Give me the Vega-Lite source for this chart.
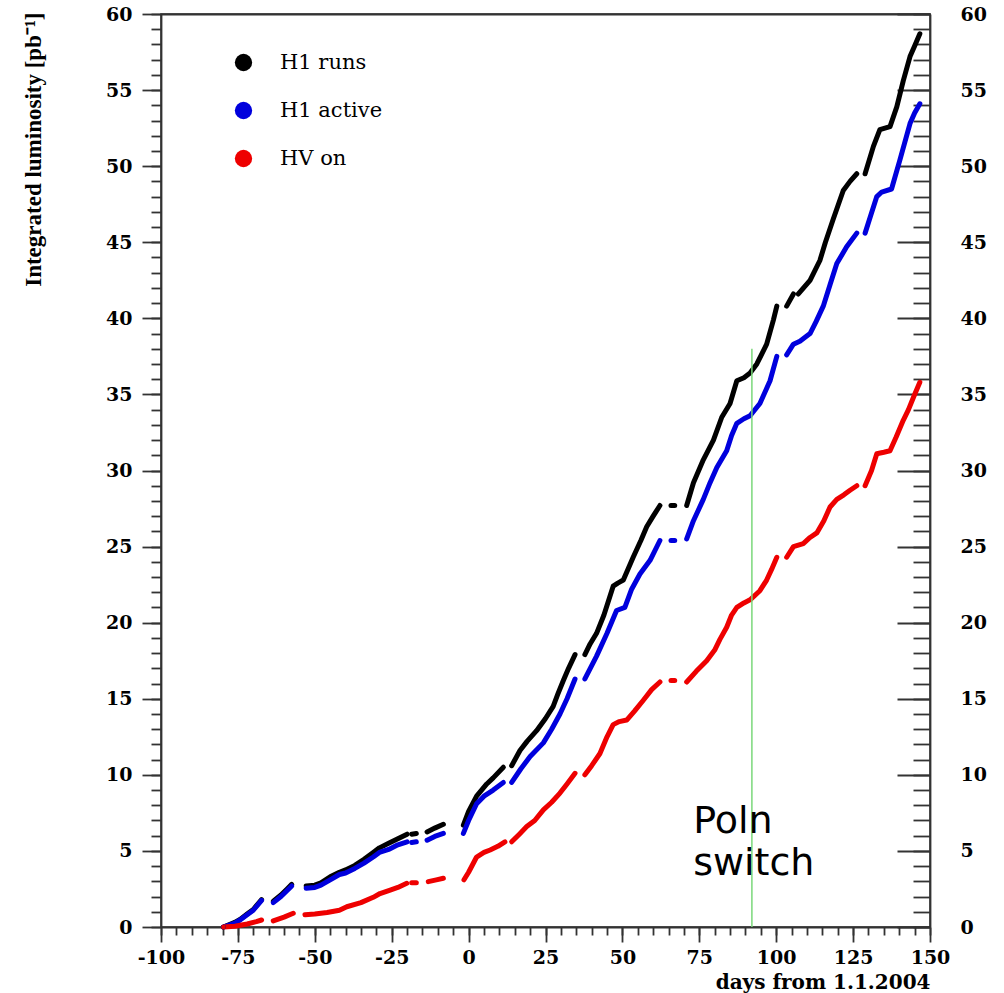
{
  "$schema": "https://vega.github.io/schema/vega-lite/v6.json",
  "autosize": {"type": "none"},
  "padding": {"left": 161, "top": 14, "right": 74, "bottom": 66},
  "width": 769,
  "height": 913,
  "background": "white",
  "config": {
    "view": {"stroke": "#222", "strokeWidth": 1.5},
    "axis": {"grid": false, "domainColor": "#333", "domainWidth": 1.8, "tickColor": "#333", "tickWidth": 1.8, "labelColor": "#000", "titleColor": "#000", "labelFont": "DejaVu Serif", "labelFontWeight": "bold", "labelFontSize": 19, "titleFont": "DejaVu Serif", "titleFontWeight": "bold", "labelOverlap": false, "labelFlush": false}
  },
  "datasets": {
    "lum": [
      {"s":"H1 runs","g":1,"d":-79.7,"v":0},{"s":"H1 runs","g":1,"d":-76,"v":0.3},{"s":"H1 runs","g":1,"d":-74.3,"v":0.5},{"s":"H1 runs","g":1,"d":-72,"v":0.85},{"s":"H1 runs","g":1,"d":-70,"v":1.15},{"s":"H1 runs","g":1,"d":-67.3,"v":1.8},
      {"s":"H1 runs","g":2,"d":-63.5,"v":1.7},{"s":"H1 runs","g":2,"d":-61,"v":2.1},{"s":"H1 runs","g":2,"d":-59,"v":2.5},{"s":"H1 runs","g":2,"d":-57.5,"v":2.8},
      {"s":"H1 runs","g":3,"d":-52.8,"v":2.7},{"s":"H1 runs","g":3,"d":-50,"v":2.75},{"s":"H1 runs","g":3,"d":-48,"v":2.9},{"s":"H1 runs","g":3,"d":-45,"v":3.3},{"s":"H1 runs","g":3,"d":-42,"v":3.6},{"s":"H1 runs","g":3,"d":-40,"v":3.75},{"s":"H1 runs","g":3,"d":-37,"v":4.05},{"s":"H1 runs","g":3,"d":-34,"v":4.45},{"s":"H1 runs","g":3,"d":-31,"v":4.9},{"s":"H1 runs","g":3,"d":-29,"v":5.2},{"s":"H1 runs","g":3,"d":-26,"v":5.5},{"s":"H1 runs","g":3,"d":-23,"v":5.8},{"s":"H1 runs","g":3,"d":-20,"v":6.1},
      {"s":"H1 runs","g":4,"d":-18.5,"v":6.1},{"s":"H1 runs","g":4,"d":-17,"v":6.15},
      {"s":"H1 runs","g":5,"d":-13.5,"v":6.25},{"s":"H1 runs","g":5,"d":-11,"v":6.5},{"s":"H1 runs","g":5,"d":-8.2,"v":6.75},
      {"s":"H1 runs","g":6,"d":-1.7,"v":6.7},{"s":"H1 runs","g":6,"d":0,"v":7.6},{"s":"H1 runs","g":6,"d":2.6,"v":8.6},{"s":"H1 runs","g":6,"d":5.9,"v":9.4},{"s":"H1 runs","g":6,"d":8,"v":9.8},{"s":"H1 runs","g":6,"d":11.3,"v":10.5},
      {"s":"H1 runs","g":7,"d":14,"v":10.6},{"s":"H1 runs","g":7,"d":16.7,"v":11.6},{"s":"H1 runs","g":7,"d":19,"v":12.2},{"s":"H1 runs","g":7,"d":22.1,"v":12.9},{"s":"H1 runs","g":7,"d":25,"v":13.7},{"s":"H1 runs","g":7,"d":27.5,"v":14.5},{"s":"H1 runs","g":7,"d":29,"v":15.3},{"s":"H1 runs","g":7,"d":30.8,"v":16.2},{"s":"H1 runs","g":7,"d":32.5,"v":17},{"s":"H1 runs","g":7,"d":34.6,"v":17.9},
      {"s":"H1 runs","g":8,"d":37.8,"v":17.9},{"s":"H1 runs","g":8,"d":39.5,"v":18.6},{"s":"H1 runs","g":8,"d":41.6,"v":19.3},{"s":"H1 runs","g":8,"d":44,"v":20.5},{"s":"H1 runs","g":8,"d":47,"v":22.4},{"s":"H1 runs","g":8,"d":48.5,"v":22.6},{"s":"H1 runs","g":8,"d":50.3,"v":22.8},{"s":"H1 runs","g":8,"d":53.5,"v":24.3},{"s":"H1 runs","g":8,"d":56,"v":25.4},{"s":"H1 runs","g":8,"d":57.9,"v":26.3},{"s":"H1 runs","g":8,"d":60,"v":27},{"s":"H1 runs","g":8,"d":62.2,"v":27.7},
      {"s":"H1 runs","g":9,"d":65.8,"v":27.7},{"s":"H1 runs","g":9,"d":67,"v":27.7},
      {"s":"H1 runs","g":10,"d":70.9,"v":27.7},{"s":"H1 runs","g":10,"d":73.1,"v":29.2},{"s":"H1 runs","g":10,"d":76.3,"v":30.7},{"s":"H1 runs","g":10,"d":79.6,"v":32},{"s":"H1 runs","g":10,"d":82.3,"v":33.5},{"s":"H1 runs","g":10,"d":85,"v":34.4},{"s":"H1 runs","g":10,"d":87.2,"v":35.9},{"s":"H1 runs","g":10,"d":89.5,"v":36.1},{"s":"H1 runs","g":10,"d":91.5,"v":36.4},{"s":"H1 runs","g":10,"d":93.7,"v":37},{"s":"H1 runs","g":10,"d":96.9,"v":38.3},{"s":"H1 runs","g":10,"d":99.1,"v":39.9},{"s":"H1 runs","g":10,"d":100.2,"v":40.8},
      {"s":"H1 runs","g":11,"d":103.4,"v":40.8},{"s":"H1 runs","g":11,"d":105.6,"v":41.6},
      {"s":"H1 runs","g":12,"d":107.2,"v":41.6},{"s":"H1 runs","g":12,"d":111,"v":42.5},{"s":"H1 runs","g":12,"d":114.2,"v":43.8},{"s":"H1 runs","g":12,"d":116,"v":45},{"s":"H1 runs","g":12,"d":118.5,"v":46.5},{"s":"H1 runs","g":12,"d":121.8,"v":48.4},{"s":"H1 runs","g":12,"d":124,"v":49},{"s":"H1 runs","g":12,"d":126.2,"v":49.5},
      {"s":"H1 runs","g":13,"d":128.9,"v":49.5},{"s":"H1 runs","g":13,"d":131.6,"v":51.3},{"s":"H1 runs","g":13,"d":133.7,"v":52.4},{"s":"H1 runs","g":13,"d":137,"v":52.6},{"s":"H1 runs","g":13,"d":139.2,"v":53.9},{"s":"H1 runs","g":13,"d":141.3,"v":55.6},{"s":"H1 runs","g":13,"d":143.5,"v":57.2},{"s":"H1 runs","g":13,"d":145,"v":57.9},{"s":"H1 runs","g":13,"d":146.7,"v":58.7},

      {"s":"H1 active","g":1,"d":-79.7,"v":0},{"s":"H1 active","g":1,"d":-76,"v":0.25},{"s":"H1 active","g":1,"d":-74.3,"v":0.46},{"s":"H1 active","g":1,"d":-72,"v":0.8},{"s":"H1 active","g":1,"d":-70,"v":1.1},{"s":"H1 active","g":1,"d":-67.3,"v":1.75},
      {"s":"H1 active","g":2,"d":-63.5,"v":1.6},{"s":"H1 active","g":2,"d":-61,"v":2.0},{"s":"H1 active","g":2,"d":-59,"v":2.4},{"s":"H1 active","g":2,"d":-57.5,"v":2.7},
      {"s":"H1 active","g":3,"d":-52.8,"v":2.55},{"s":"H1 active","g":3,"d":-50,"v":2.6},{"s":"H1 active","g":3,"d":-48,"v":2.75},{"s":"H1 active","g":3,"d":-45,"v":3.1},{"s":"H1 active","g":3,"d":-42,"v":3.45},{"s":"H1 active","g":3,"d":-40,"v":3.55},{"s":"H1 active","g":3,"d":-37,"v":3.85},{"s":"H1 active","g":3,"d":-34,"v":4.2},{"s":"H1 active","g":3,"d":-31,"v":4.6},{"s":"H1 active","g":3,"d":-29,"v":4.9},{"s":"H1 active","g":3,"d":-26,"v":5.1},{"s":"H1 active","g":3,"d":-23,"v":5.4},{"s":"H1 active","g":3,"d":-20,"v":5.6},
      {"s":"H1 active","g":4,"d":-18.5,"v":5.55},{"s":"H1 active","g":4,"d":-17,"v":5.6},
      {"s":"H1 active","g":5,"d":-13.5,"v":5.7},{"s":"H1 active","g":5,"d":-11,"v":5.95},{"s":"H1 active","g":5,"d":-8.2,"v":6.15},
      {"s":"H1 active","g":6,"d":-1.7,"v":6.15},{"s":"H1 active","g":6,"d":0,"v":7.0},{"s":"H1 active","g":6,"d":2.6,"v":8.1},{"s":"H1 active","g":6,"d":5,"v":8.6},{"s":"H1 active","g":6,"d":8,"v":9.0},{"s":"H1 active","g":6,"d":11.3,"v":9.5},
      {"s":"H1 active","g":7,"d":14,"v":9.5},{"s":"H1 active","g":7,"d":17,"v":10.4},{"s":"H1 active","g":7,"d":20,"v":11.2},{"s":"H1 active","g":7,"d":24.3,"v":12.1},{"s":"H1 active","g":7,"d":27,"v":13},{"s":"H1 active","g":7,"d":29.7,"v":14},{"s":"H1 active","g":7,"d":32,"v":15},{"s":"H1 active","g":7,"d":34.6,"v":16.3},
      {"s":"H1 active","g":8,"d":37.8,"v":16.3},{"s":"H1 active","g":8,"d":41.6,"v":17.8},{"s":"H1 active","g":8,"d":45,"v":19.3},{"s":"H1 active","g":8,"d":48.1,"v":20.8},{"s":"H1 active","g":8,"d":50.8,"v":21},{"s":"H1 active","g":8,"d":53,"v":22.2},{"s":"H1 active","g":8,"d":55.7,"v":23.2},{"s":"H1 active","g":8,"d":59,"v":24.1},{"s":"H1 active","g":8,"d":62.2,"v":25.4},
      {"s":"H1 active","g":9,"d":65.8,"v":25.4},{"s":"H1 active","g":9,"d":67,"v":25.4},
      {"s":"H1 active","g":10,"d":70.9,"v":25.5},{"s":"H1 active","g":10,"d":73.1,"v":26.7},{"s":"H1 active","g":10,"d":76.3,"v":28.1},{"s":"H1 active","g":10,"d":78.5,"v":29.2},{"s":"H1 active","g":10,"d":80.7,"v":30.2},{"s":"H1 active","g":10,"d":83.9,"v":31.3},{"s":"H1 active","g":10,"d":85.5,"v":32.3},{"s":"H1 active","g":10,"d":87.2,"v":33.1},{"s":"H1 active","g":10,"d":89.5,"v":33.4},{"s":"H1 active","g":10,"d":91.5,"v":33.6},{"s":"H1 active","g":10,"d":94.7,"v":34.4},{"s":"H1 active","g":10,"d":98,"v":35.9},{"s":"H1 active","g":10,"d":100.2,"v":37.5},
      {"s":"H1 active","g":11,"d":103.4,"v":37.6},{"s":"H1 active","g":11,"d":105.6,"v":38.3},{"s":"H1 active","g":11,"d":107.7,"v":38.5},{"s":"H1 active","g":11,"d":111,"v":39},{"s":"H1 active","g":11,"d":113,"v":39.8},{"s":"H1 active","g":11,"d":115.3,"v":40.8},{"s":"H1 active","g":11,"d":117.5,"v":42.2},{"s":"H1 active","g":11,"d":119.7,"v":43.6},{"s":"H1 active","g":11,"d":122.9,"v":44.7},{"s":"H1 active","g":11,"d":126.2,"v":45.6},
      {"s":"H1 active","g":12,"d":128.9,"v":45.6},{"s":"H1 active","g":12,"d":130.8,"v":46.8},{"s":"H1 active","g":12,"d":132.7,"v":48},{"s":"H1 active","g":12,"d":134.3,"v":48.3},{"s":"H1 active","g":12,"d":137.5,"v":48.5},{"s":"H1 active","g":12,"d":140.2,"v":50.4},{"s":"H1 active","g":12,"d":143.5,"v":52.8},{"s":"H1 active","g":12,"d":145,"v":53.5},{"s":"H1 active","g":12,"d":146.7,"v":54.1},

      {"s":"HV on","g":1,"d":-79.7,"v":0},{"s":"HV on","g":1,"d":-76,"v":0.05},{"s":"HV on","g":1,"d":-72,"v":0.2},{"s":"HV on","g":1,"d":-69,"v":0.35},{"s":"HV on","g":1,"d":-67.3,"v":0.46},
      {"s":"HV on","g":2,"d":-63.5,"v":0.4},{"s":"HV on","g":2,"d":-60,"v":0.65},{"s":"HV on","g":2,"d":-57,"v":0.9},
      {"s":"HV on","g":3,"d":-53.2,"v":0.8},{"s":"HV on","g":3,"d":-50,"v":0.85},{"s":"HV on","g":3,"d":-46,"v":0.95},{"s":"HV on","g":3,"d":-42,"v":1.1},{"s":"HV on","g":3,"d":-39.6,"v":1.33},{"s":"HV on","g":3,"d":-35,"v":1.6},{"s":"HV on","g":3,"d":-31,"v":1.95},{"s":"HV on","g":3,"d":-28.8,"v":2.2},{"s":"HV on","g":3,"d":-25.5,"v":2.43},{"s":"HV on","g":3,"d":-23,"v":2.6},{"s":"HV on","g":3,"d":-20.1,"v":2.87},
      {"s":"HV on","g":4,"d":-18.5,"v":2.9},{"s":"HV on","g":4,"d":-17,"v":2.9},
      {"s":"HV on","g":5,"d":-13.1,"v":2.98},{"s":"HV on","g":5,"d":-10.5,"v":3.1},{"s":"HV on","g":5,"d":-8.2,"v":3.2},
      {"s":"HV on","g":6,"d":-1.5,"v":3.1},{"s":"HV on","g":6,"d":0,"v":3.6},{"s":"HV on","g":6,"d":2.6,"v":4.6},{"s":"HV on","g":6,"d":5,"v":4.9},{"s":"HV on","g":6,"d":7,"v":5.06},{"s":"HV on","g":6,"d":9.5,"v":5.3},{"s":"HV on","g":6,"d":11.8,"v":5.6},
      {"s":"HV on","g":7,"d":14,"v":5.6},{"s":"HV on","g":7,"d":16.5,"v":6.1},{"s":"HV on","g":7,"d":18.9,"v":6.6},{"s":"HV on","g":7,"d":21.5,"v":7},{"s":"HV on","g":7,"d":24.3,"v":7.7},{"s":"HV on","g":7,"d":27,"v":8.2},{"s":"HV on","g":7,"d":29.7,"v":8.8},{"s":"HV on","g":7,"d":32,"v":9.4},{"s":"HV on","g":7,"d":34.6,"v":10.1},
      {"s":"HV on","g":8,"d":37.8,"v":10},{"s":"HV on","g":8,"d":40,"v":10.6},{"s":"HV on","g":8,"d":42.7,"v":11.4},{"s":"HV on","g":8,"d":45,"v":12.5},{"s":"HV on","g":8,"d":47,"v":13.3},{"s":"HV on","g":8,"d":49,"v":13.5},{"s":"HV on","g":8,"d":51.4,"v":13.6},{"s":"HV on","g":8,"d":54,"v":14.2},{"s":"HV on","g":8,"d":56.8,"v":14.9},{"s":"HV on","g":8,"d":59.5,"v":15.6},{"s":"HV on","g":8,"d":62.2,"v":16.1},
      {"s":"HV on","g":9,"d":65.8,"v":16.2},{"s":"HV on","g":9,"d":67,"v":16.2},
      {"s":"HV on","g":10,"d":70.9,"v":16.1},{"s":"HV on","g":10,"d":74,"v":16.8},{"s":"HV on","g":10,"d":77.4,"v":17.5},{"s":"HV on","g":10,"d":80,"v":18.2},{"s":"HV on","g":10,"d":81.7,"v":18.9},{"s":"HV on","g":10,"d":83.9,"v":19.7},{"s":"HV on","g":10,"d":85.5,"v":20.5},{"s":"HV on","g":10,"d":87.2,"v":21},{"s":"HV on","g":10,"d":89.5,"v":21.3},{"s":"HV on","g":10,"d":91.5,"v":21.5},{"s":"HV on","g":10,"d":94.7,"v":22.1},{"s":"HV on","g":10,"d":96.9,"v":22.8},{"s":"HV on","g":10,"d":98.5,"v":23.5},{"s":"HV on","g":10,"d":100.2,"v":24.3},
      {"s":"HV on","g":11,"d":103.4,"v":24.3},{"s":"HV on","g":11,"d":105.6,"v":25},{"s":"HV on","g":11,"d":108.8,"v":25.2},{"s":"HV on","g":11,"d":111,"v":25.6},{"s":"HV on","g":11,"d":113.2,"v":25.9},{"s":"HV on","g":11,"d":115.5,"v":26.7},{"s":"HV on","g":11,"d":117.5,"v":27.6},{"s":"HV on","g":11,"d":119.7,"v":28.1},{"s":"HV on","g":11,"d":122,"v":28.4},{"s":"HV on","g":11,"d":124,"v":28.7},{"s":"HV on","g":11,"d":126.2,"v":29},
      {"s":"HV on","g":12,"d":128.9,"v":29},{"s":"HV on","g":12,"d":131,"v":30},{"s":"HV on","g":12,"d":132.7,"v":31.1},{"s":"HV on","g":12,"d":135,"v":31.2},{"s":"HV on","g":12,"d":137,"v":31.3},{"s":"HV on","g":12,"d":139,"v":32.2},{"s":"HV on","g":12,"d":141.3,"v":33.3},{"s":"HV on","g":12,"d":143,"v":34},{"s":"HV on","g":12,"d":144.6,"v":34.8},{"s":"HV on","g":12,"d":146.7,"v":35.8}
    ],
    "marker": [{"d": 92.1, "v": 0, "v2": 38}],
    "note": [{"d": 73, "v": 6.15, "label": "Poln\nswitch"}]
  },
  "resolve": {"axis": {"x": "independent", "y": "independent"}, "legend": {"color": "independent"}},
  "layer": [
    {
      "data": {"name": "lum"},
      "mark": {"type": "line", "strokeWidth": 5, "strokeCap": "round", "strokeJoin": "round"},
      "encoding": {
        "x": {"field": "d", "type": "quantitative", "scale": {"domain": [-100, 150], "nice": false, "zero": false},
              "axis": {"orient": "bottom", "values": [-100,-75,-50,-25,0,25,50,75,100,125,150], "labelExpr": "'' + datum.value", "tickSize": 15, "labelPadding": 6, "title": "days from 1.1.2004", "titleFontSize": 20, "titleX": 769, "titleY": 61, "titleAlign": "right", "titleBaseline": "alphabetic", "titleAnchor": null}},
        "y": {"field": "v", "type": "quantitative", "scale": {"domain": [0, 60], "nice": false},
              "axis": {"orient": "left", "values": [0,5,10,15,20,25,30,35,40,45,50,55,60], "tickSize": 19, "labelPadding": 10, "title": "Integrated luminosity [pb⁻¹]", "titleFont": "Liberation Serif", "titleFontSize": 23, "titleAngle": 270, "titleX": -128, "titleY": -2, "titleAlign": "right", "titleBaseline": "middle"}},
        "color": {"field": "s", "type": "nominal", "scale": {"domain": ["H1 runs", "H1 active", "HV on"], "range": ["#000000", "#0000dd", "#ee0000"]}, "legend": null},
        "detail": {"field": "g"}
      }
    },
    {
      "data": {"name": "lum"},
      "transform": [{"filter": "datum.d == -79.7"}],
      "mark": {"type": "point", "filled": true, "size": 20, "opacity": 1},
      "encoding": {
        "x": {"field": "d", "type": "quantitative",
              "axis": {"orient": "bottom", "values": [-100,-95,-90,-85,-80,-75,-70,-65,-60,-55,-50,-45,-40,-35,-30,-25,-20,-15,-10,-5,0,5,10,15,20,25,30,35,40,45,50,55,60,65,70,75,80,85,90,95,100,105,110,115,120,125,130,135,140,145,150], "tickSize": 8, "labels": false, "domain": false, "title": null}},
        "y": {"field": "v", "type": "quantitative",
              "axis": {"orient": "left", "values": [0,1,2,3,4,5,6,7,8,9,10,11,12,13,14,15,16,17,18,19,20,21,22,23,24,25,26,27,28,29,30,31,32,33,34,35,36,37,38,39,40,41,42,43,44,45,46,47,48,49,50,51,52,53,54,55,56,57,58,59,60], "tickSize": 10, "labels": false, "domain": false, "title": null}},
        "color": {"field": "s", "type": "nominal",
                  "legend": {"orient": "none", "legendX": 72, "legendY": 38, "title": null, "symbolType": "circle", "symbolSize": 300, "symbolStrokeWidth": 0, "labelFont": "DejaVu Serif", "labelFontSize": 21, "labelColor": "#000", "labelOffset": 26, "rowPadding": 26, "padding": 0}}
      }
    },
    {
      "data": {"name": "marker"},
      "mark": {"type": "rule", "color": "#7ad87a", "strokeWidth": 1.5},
      "encoding": {
        "x": {"field": "d", "type": "quantitative", "axis": {"orient": "top", "ticks": false, "labels": false, "title": null}},
        "y": {"field": "v", "type": "quantitative",
              "axis": {"orient": "right", "values": [0,5,10,15,20,25,30,35,40,45,50,55,60], "tickSize": -33, "labelPadding": 63, "title": null}},
        "y2": {"field": "v2"}
      }
    },
    {
      "data": {"name": "note"},
      "mark": {"type": "text", "align": "left", "baseline": "alphabetic", "font": "DejaVu Sans", "fontSize": 38, "lineHeight": 42, "lineBreak": "\n", "color": "#000"},
      "encoding": {
        "x": {"field": "d", "type": "quantitative", "axis": null},
        "y": {"field": "v", "type": "quantitative",
              "axis": {"orient": "right", "values": [0,1,2,3,4,5,6,7,8,9,10,11,12,13,14,15,16,17,18,19,20,21,22,23,24,25,26,27,28,29,30,31,32,33,34,35,36,37,38,39,40,41,42,43,44,45,46,47,48,49,50,51,52,53,54,55,56,57,58,59,60], "tickSize": -17, "labels": false, "domain": false, "title": null}},
        "text": {"field": "label"}
      }
    }
  ]
}
